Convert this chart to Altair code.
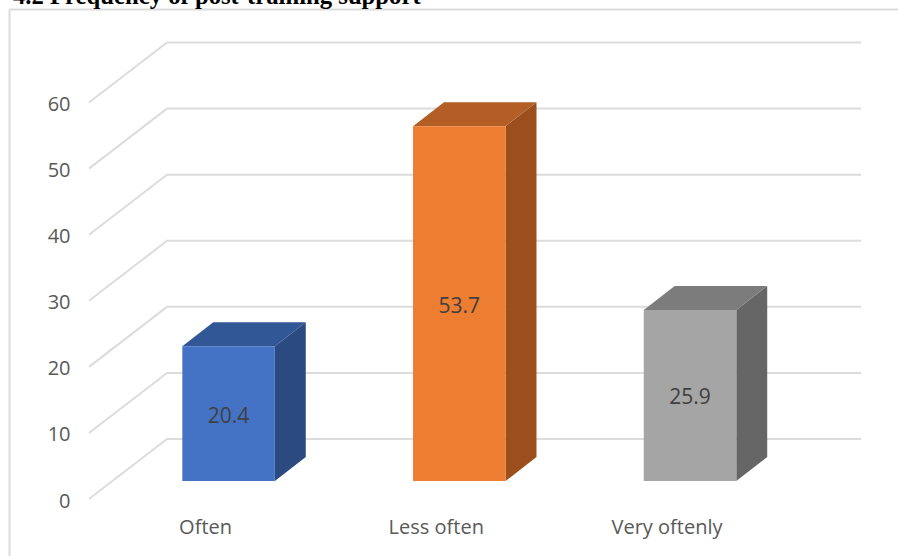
import altair as alt
import pandas as pd

categories = ["Often", "Less often", "Very oftenly"]
values = [20.4, 53.7, 25.9]
front_colors = ["#4472c4", "#ed7d31", "#a5a5a5"]
top_colors = ["#325797", "#b25e24", "#7c7c7c"]
side_colors = ["#2a4a80", "#9a4f1c", "#666666"]
ticks = [0, 10, 20, 30, 40, 50, 60]
title_text = "4.2 Frequency of post-training support"

# Data extents and the oblique projection of the floor, in axis units
X_MIN, X_MAX = -0.503, 2.843
Y_MAX = 69.16
WALL_DX, WALL_DY = 0.338, 9.08
BAR_DX, BAR_DY = 0.134, 3.63
BAR_SHIFT_X, BAR_SHIFT_Y = 0.102, 2.72
BAR_WIDTH = 0.401

GRID = "#dcdcdc"
LABEL = "#595959"
FONT = "Open Sans"

x_scale = alt.Scale(domain=[X_MIN, X_MAX], nice=False, zero=False)
y_scale = alt.Scale(domain=[0, Y_MAX], nice=False, zero=False)

# Gridlines: a slanted run across the side wall, then along the back wall
grid_rows = []
for t in ticks:
    grid_rows += [
        {"tick": t, "order": 0, "x": X_MIN, "y": t},
        {"tick": t, "order": 1, "x": X_MIN + WALL_DX, "y": t + WALL_DY},
        {"tick": t, "order": 2, "x": X_MAX, "y": t + WALL_DY},
    ]
grid = (
    alt.Chart(pd.DataFrame(grid_rows))
    .mark_line(color=GRID, strokeWidth=2, clip=False)
    .encode(
        x=alt.X(
            "x:Q",
            scale=x_scale,
            title=None,
            axis=alt.Axis(
                values=[0, 1, 2],
                labelExpr="[" + ",".join(f"'{c}'" for c in categories) + "][datum.value]",
                domain=False,
                ticks=False,
                grid=False,
                labelPadding=18,
                labelFontSize=20,
                labelFont=FONT,
                labelColor=LABEL,
                labelAlign="center",
            ),
        ),
        y=alt.Y(
            "y:Q",
            scale=y_scale,
            title=None,
            axis=alt.Axis(
                values=ticks,
                domain=False,
                ticks=False,
                grid=False,
                labelPadding=19,
                labelOffset=2,
                labelFontSize=20,
                labelFont=FONT,
                labelColor=LABEL,
            ),
        ),
        detail="tick:N",
        order="order:Q",
    )
)


def face_layer(rows, color):
    """One parallelogram face of a bar, drawn as a filled band between y and y2."""
    return (
        alt.Chart(pd.DataFrame(rows))
        .mark_area(color=color, interpolate="linear", opacity=1, clip=False)
        .encode(
            x=alt.X("x:Q", scale=x_scale, title=None),
            y=alt.Y("y:Q", scale=y_scale, title=None),
            y2="y2:Q",
        )
    )


# Each bar is a front rectangle plus two parallelograms for its top and side
front_rows, faces = [], []
for i, (cat, v) in enumerate(zip(categories, values)):
    left = i + BAR_SHIFT_X - BAR_WIDTH / 2
    right = left + BAR_WIDTH
    base = BAR_SHIFT_Y
    top = base + v
    front_rows.append(
        {"cat": cat, "value": v, "left": left, "right": right, "base": base,
         "top": top, "mid_x": (left + right) / 2, "mid_y": base + v / 2,
         "color": front_colors[i]}
    )
    faces.append(face_layer(
        [
            {"x": right, "y": base, "y2": top},
            {"x": right + BAR_DX, "y": base + BAR_DY, "y2": top + BAR_DY},
        ],
        side_colors[i],
    ))
    faces.append(face_layer(
        [
            {"x": left, "y": top, "y2": top},
            {"x": left + BAR_DX, "y": top, "y2": top + BAR_DY},
            {"x": right, "y": top, "y2": top + BAR_DY},
            {"x": right + BAR_DX, "y": top + BAR_DY, "y2": top + BAR_DY},
        ],
        top_colors[i],
    ))
fronts = pd.DataFrame(front_rows)

front_layer = (
    alt.Chart(fronts)
    .mark_rect(clip=False)
    .encode(
        x=alt.X("left:Q", scale=x_scale),
        x2="right:Q",
        y=alt.Y("base:Q", scale=y_scale),
        y2="top:Q",
        color=alt.Color("color:N", scale=None),
    )
)

value_labels = (
    alt.Chart(fronts)
    .mark_text(font=FONT, fontSize=21, color="#404040", align="center", baseline="middle", dy=3)
    .encode(
        x=alt.X("mid_x:Q", scale=x_scale),
        y=alt.Y("mid_y:Q", scale=y_scale),
        text=alt.Text("value:Q", format=".1f"),
    )
)

# Outer chart border, running off the right and bottom of the page
frame_left = (
    alt.Chart(pd.DataFrame({"k": [0]}))
    .mark_rule(color=GRID, strokeWidth=2)
    .encode(x=alt.value(-79.5), y=alt.value(-32.5), y2=alt.value(520))
)
frame_top = (
    alt.Chart(pd.DataFrame({"k": [0]}))
    .mark_rule(color=GRID, strokeWidth=2)
    .encode(x=alt.value(-79.5), x2=alt.value(815), y=alt.value(-32.5))
)

heading = (
    alt.Chart(pd.DataFrame({"label": [title_text]}))
    .mark_text(font="Liberation Serif", fontSize=24.7, fontWeight="bold", color="#000000",
               align="left", baseline="alphabetic")
    .encode(x=alt.value(-76), y=alt.value(-38.5), text="label:N")
)

chart = (
    alt.layer(grid, *faces, front_layer, value_labels, frame_left, frame_top, heading)
    .properties(
        width=772,
        height=457,
        padding={"left": 89, "top": 42, "right": 37, "bottom": 57},
        autosize=alt.AutoSizeParams(type="none"),
        background="#ffffff",
    )
    .configure_view(stroke=None)
)

chart.save("out.html", embed_options={"renderer": "svg", "actions": False})
